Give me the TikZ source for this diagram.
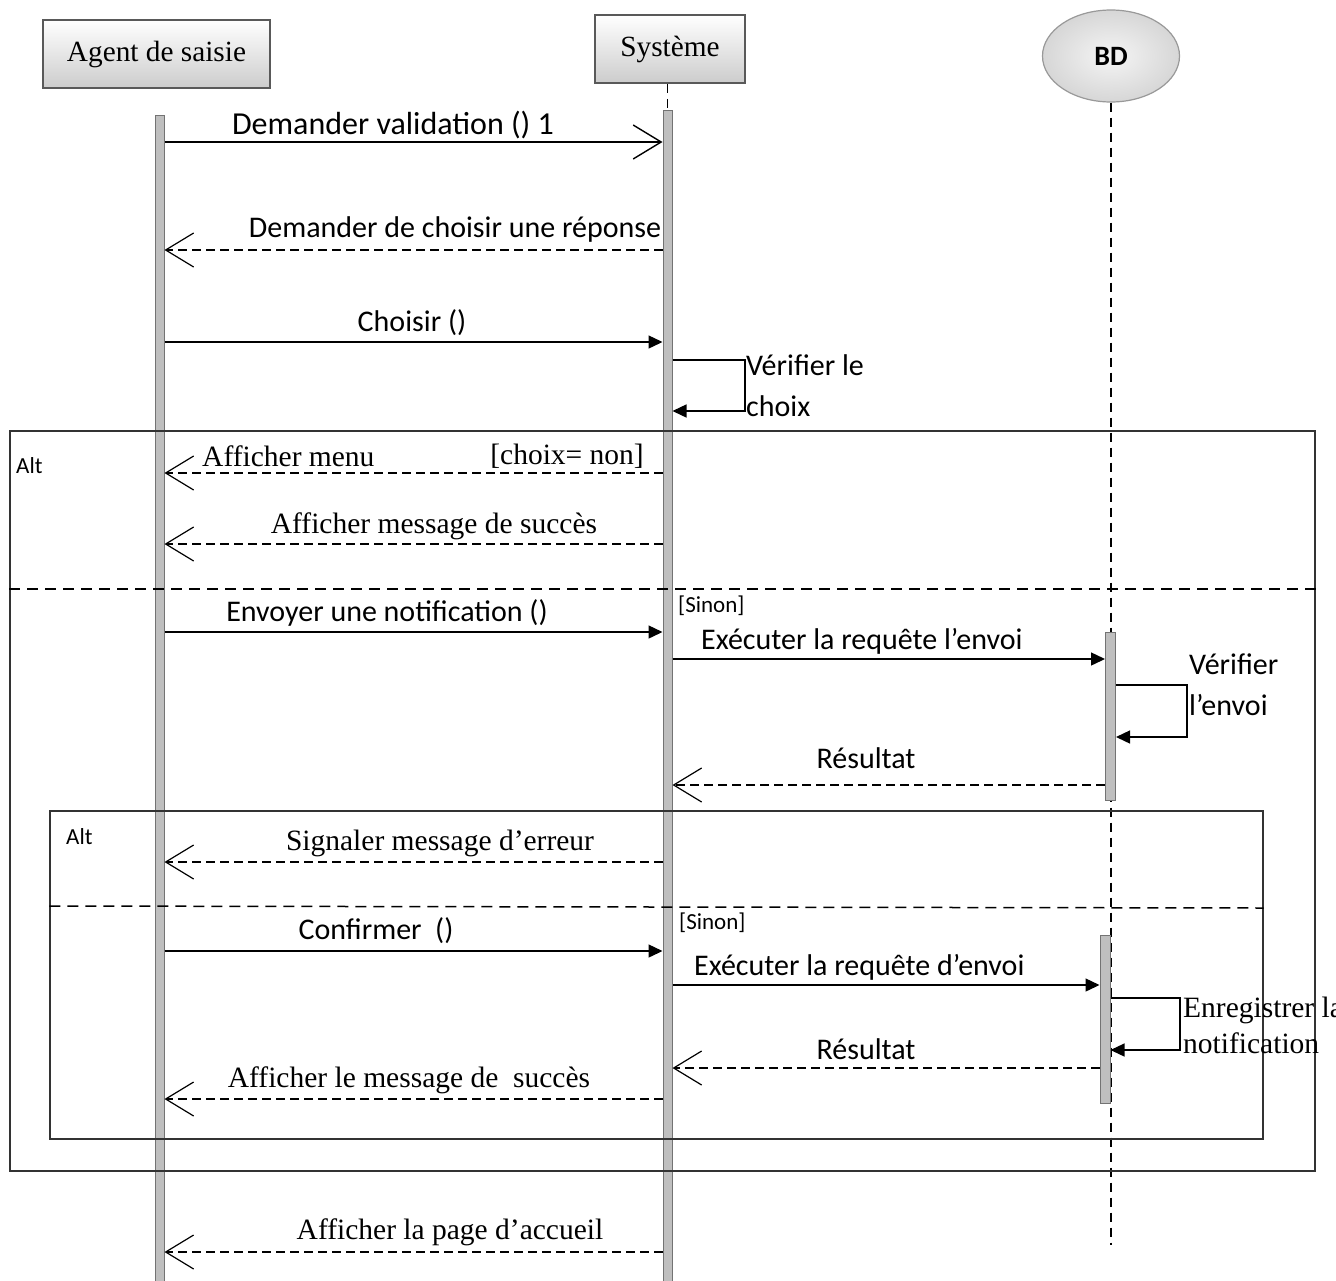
\documentclass[tikz,border=0pt]{standalone}
\usepackage{fontspec}
\setmainfont{Liberation Serif}
\newfontfamily\carl{Carlito}
\usetikzlibrary{arrows.meta,shapes.geometric}

\tikzset{
  actorbox/.style={draw=black!65, line width=1.6pt, top color=white, bottom color=black!20,
    minimum height=68pt, inner sep=0pt, font=\fontsize{29.3}{32}\selectfont},
  dbnode/.style={ellipse, draw=black!40, line width=1.2pt, inner color=black!4, outer color=black!16,
    minimum width=137pt, minimum height=92pt, inner sep=0pt, font=\carl\bfseries\fontsize{28}{30}\selectfont},
  actbar/.style={draw=black!55, line width=1pt, fill=black!25, minimum width=9pt, inner sep=0pt},
  lifeline/.style={line width=1.5pt, dash pattern=on 9pt off 6pt},
  sync/.style={line width=1.4pt, -{Triangle[length=14pt,width=13pt]}},
  call/.style={line width=1.4pt, -{Straight Barb[length=28pt,width=34pt,line width=1.4pt]}},
  reply/.style={line width=1.4pt, dash pattern=on 9pt off 5pt, -{Straight Barb[length=28pt,width=34pt,line width=1.2pt]}},
  frame/.style={draw=black!80, line width=1.1pt},
  separator/.style={line width=1.5pt, dash pattern=on 11pt off 7pt},
  sanslbl/.style={inner sep=0pt, font=\carl\fontsize{30}{33}\selectfont},
  seriflbl/.style={inner sep=0pt, font=\fontsize{29.5}{32}\selectfont},
  guardlbl/.style={inner sep=0pt, anchor=west, font=\carl\fontsize{23}{25}\selectfont},
}

\begin{document}
\begin{tikzpicture}[x=1pt,y=-1pt]
\useasboundingbox (0,0) rectangle (1336,1280);
\clip (0,0) rectangle (1336,1280);
\fill[white] (0,0) rectangle (1336,1280);

% participants
\node[actorbox, minimum width=227pt] (agent) at (156.5,54) {Agent de saisie};
\node[actorbox, minimum width=150pt] (sys) at (670,49) {Système};
\node[dbnode] (bd) at (1111,56) {BD};

% activation bars and lifelines
\node[actbar, minimum height=1170pt] (agentbar) at (159.5,700) {};
\node[actbar, minimum height=1175pt] (sysbar) at (667.5,697.5) {};
\coordinate (bdend) at (1111,1245);
\draw[lifeline] (sys.south -| sysbar.north) -- (sysbar.north);
\draw[lifeline] (bd.south) -- (bdend);
\node[actbar, minimum width=10pt, minimum height=168pt] (bdbar1) at (1110.5,716) {};
\node[actbar, minimum width=10pt, minimum height=168pt] (bdbar2) at (1105,1019) {};

% combined fragments
\node[frame, minimum width=1305pt, minimum height=740pt, inner sep=0pt] (outer) at (662.5,801) {};
\node[frame, minimum width=1213pt, minimum height=328pt, inner sep=0pt] (inner) at (656.5,975) {};
\draw[separator] (outer.west |- 0,589) -- (outer.east |- 0,589);
\draw[separator] (inner.west |- 0,906) -- (inner.east |- 0,908);
\node[guardlbl] (alt1) at (16,466) {Alt};
\node[guardlbl] (alt2) at (66,837) {Alt};
\node[guardlbl] (sinon1) at (678,606) {[Sinon]};
\node[guardlbl] (sinon2) at (679,923) {[Sinon]};

% messages
\draw[call] (agentbar.east |- 0,142) -- (sysbar.west |- 0,142);
\node[sanslbl, font=\carl\fontsize{32}{34}\selectfont] (l1) at (393,125) {Demander validation () 1};

\draw[reply] (sysbar.west |- 0,250) -- (agentbar.east |- 0,250);
\node[sanslbl] (l2) at (455,229) {Demander de choisir une réponse};

\draw[sync] (agentbar.east |- 0,342) -- (sysbar.west |- 0,342);
\node[sanslbl] (l3) at (412,323) {Choisir ()};

\draw[sync] (sysbar.east |- 0,360) -- (745,360) -- (745,411) -- (sysbar.east |- 0,411);
\node[sanslbl, anchor=west] (l4a) at (746,365) {Vérifier le};
\node[sanslbl, anchor=west] (l4b) at (746,406) {choix};

\draw[reply] (sysbar.west |- 0,473) -- (agentbar.east |- 0,473);
\node[seriflbl, anchor=west] (l5a) at (202,456) {Afficher menu};
\node[seriflbl, anchor=east] (l5b) at (644,456) {[choix= non]};

\draw[reply] (sysbar.west |- 0,544) -- (agentbar.east |- 0,544);
\node[seriflbl] (l6) at (434,526) {Afficher message de succès};

\draw[sync] (agentbar.east |- 0,632) -- (sysbar.west |- 0,632);
\node[sanslbl] (l7) at (387,613) {Envoyer une notification ()};

\draw[sync] (sysbar.east |- 0,659) -- (bdbar1.west |- 0,659);
\node[sanslbl, anchor=west] (l8) at (701,641) {Exécuter la requête l’envoi};

\draw[sync] (bdbar1.east |- 0,685) -- (1187,685) -- (1187,737) -- (bdbar1.east |- 0,737);
\node[sanslbl, anchor=west] (l9a) at (1189,664) {Vérifier};
\node[sanslbl, anchor=west] (l9b) at (1189,705) {l’envoi};

\draw[reply] (bdbar1.west |- 0,785) -- (sysbar.east |- 0,785);
\node[sanslbl] (l10) at (866,758) {Résultat};

\draw[reply] (sysbar.west |- 0,862) -- (agentbar.east |- 0,862);
\node[seriflbl] (l11) at (440,843) {Signaler message d’erreur};

\draw[sync] (agentbar.east |- 0,951) -- (sysbar.west |- 0,951);
\node[sanslbl] (l12) at (376,931) {Confirmer\ \ ()};

\draw[sync] (sysbar.east |- 0,985) -- (bdbar2.west |- 0,985);
\node[sanslbl, anchor=west] (l13) at (694,967) {Exécuter la requête d’envoi};

\draw[sync] (bdbar2.east |- 0,998) -- (1180,998) -- (1180,1050) -- (bdbar2.east |- 0,1050);
\node[seriflbl, anchor=west] (l14a) at (1183,1010) {Enregistrer la};
\node[seriflbl, anchor=west] (l14b) at (1183,1043) {notification};

\draw[reply] (bdbar2.west |- 0,1068) -- (sysbar.east |- 0,1068);
\node[sanslbl] (l15) at (866,1049) {Résultat};

\draw[reply] (sysbar.west |- 0,1099) -- (agentbar.east |- 0,1099);
\node[seriflbl] (l16) at (409,1080) {Afficher le message de\ \ succès};

\draw[reply] (sysbar.west |- 0,1252) -- (agentbar.east |- 0,1252);
\node[seriflbl] (l17) at (450,1232) {Afficher la page d’accueil};
\end{tikzpicture}
\end{document}
